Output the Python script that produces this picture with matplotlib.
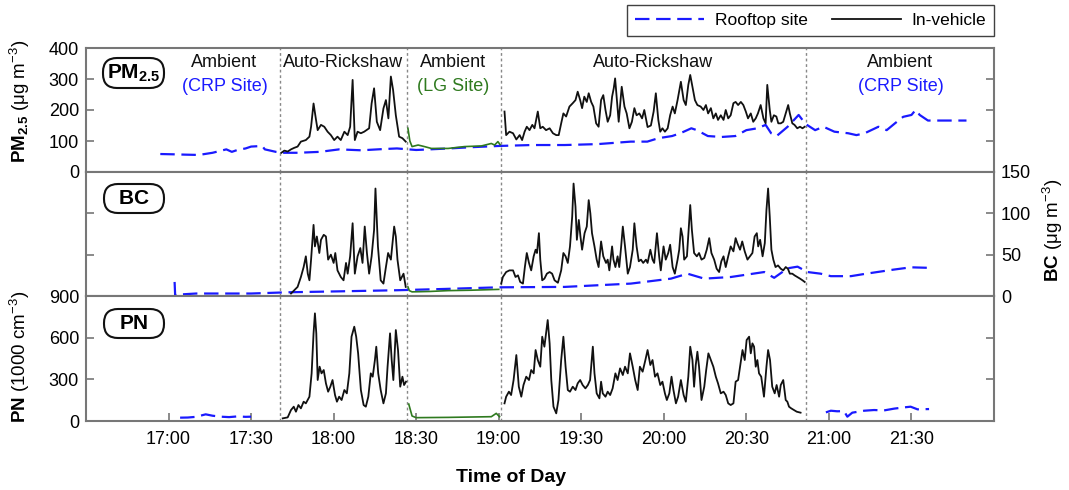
import matplotlib
matplotlib.use("Agg")
import matplotlib.pyplot as plt
import matplotlib.transforms as mtransforms
from matplotlib.lines import Line2D
from matplotlib.patches import FancyBboxPatch
from matplotlib.ticker import FuncFormatter

plt.rcParams['font.family'] = ['Liberation Sans', 'DejaVu Sans']
plt.rcParams['mathtext.fontset'] = 'custom'
plt.rcParams['mathtext.rm'] = 'Liberation Sans'
plt.rcParams['mathtext.bf'] = 'Liberation Sans:bold'
plt.rcParams['mathtext.it'] = 'Liberation Sans:italic'

# time axis: minutes after 17:00
segment_edges = [40.6, 86.5, 120.8, 231.5]

# ---------------- PM2.5 (ug m-3) ----------------
pm_roof_t = [-3, 2, 6, 11, 16, 21, 23, 25, 28, 30,
             34, 35, 39, 42, 47, 55, 62, 70, 78, 83,
             90, 102, 110, 120, 132, 144, 156, 168, 174, 178,
             183, 186, 190, 192, 196, 201, 206, 210, 214, 217,
             219, 221, 225, 229, 231.5, 235, 238, 242, 247, 250,
             253, 258, 261, 264, 267, 270, 271.5, 273, 276, 290]
pm_roof = [58, 57, 56, 55, 62, 73, 65, 71, 76, 82,
           84, 73, 65, 62, 62, 65, 73, 70, 74, 76,
           71, 76, 80, 84, 87, 87, 90, 98, 98, 109,
           116, 125, 141, 135, 116, 113, 116, 135, 141, 152,
           125, 116, 146, 184, 155, 135, 146, 130, 125, 119,
           125, 146, 135, 157, 178, 184, 200, 184, 166, 166]

pm_lg_t = [87, 87.7, 88.5, 90.7, 93, 95.5, 101.6, 107.6, 113.7, 117.3, 118.5, 119.7, 120.5]
pm_lg = [141, 100, 82, 87, 82, 76, 76, 82, 84, 92, 87, 98, 88]

pm_car1_t = [41, 42.1, 43.3, 44.5, 45.7, 46.9, 48.1, 49.9, 51.2, 51.8,
             52.7, 53.6, 54.2, 55.4, 56.6, 57.8, 59.0, 60.2, 61.4, 62.6,
             63.9, 65.1, 66.0, 66.9, 67.7, 68.7, 69.9, 71.1, 72.9, 73.8,
             74.7, 75.7, 76.9, 78.1, 79.0, 79.9, 80.8, 81.6, 82.6, 83.8,
             85.0, 86.2]
pm_car1 = [62, 69, 66, 73, 78, 82, 98, 103, 114, 146,
           221, 168, 135, 152, 146, 130, 119, 103, 114, 103,
           130, 119, 146, 297, 103, 130, 125, 130, 141, 221,
           270, 162, 135, 205, 232, 173, 308, 265, 183, 114,
           109, 98]

pm_car2_t = [122.1, 122.7, 123.9, 125.2, 126.4, 127.6, 128.5, 129.4, 130.2, 131.2,
             132.2, 133.0, 134.2, 135.1, 136.0, 137.2, 138.5, 139.7, 140.9, 141.8,
             142.7, 143.5, 144.5, 145.7, 146.9, 147.9, 148.7, 149.6, 150.3, 151.1,
             152.0, 152.7, 153.6, 154.4, 155.4, 156.3, 157.2, 158.0, 158.8, 159.6,
             160.5, 161.2, 161.8, 162.3, 163.6, 164.7, 165.7, 166.5, 167.5, 168.4,
             169.3, 170.1, 171.1, 172.1, 172.9, 174.1, 175.3, 176.3, 177.1, 178.0,
             178.7, 179.5, 180.4, 181.4, 182.3, 183.2, 184.0, 185.0, 186.2, 187.2,
             188.0, 188.9, 189.6, 190.4, 191.3, 192.2, 193.4, 194.4, 195.3, 196.1,
             197.1, 198.0, 198.9, 199.7, 200.7, 201.7, 202.5, 203.4, 204.3, 205.3,
             206.1, 207.0, 208.0, 208.9, 209.8, 210.6, 211.6, 212.5, 213.4, 214.2,
             215.2, 216.2, 217.0, 217.6, 218.5, 219.1, 220.0, 220.9, 221.6, 222.5,
             223.4, 224.3, 225.2, 225.8, 226.7, 227.5, 228.5, 229.5, 230.4, 231.2]
pm_car2 = [195, 119, 130, 125, 105, 119, 103, 130, 146, 135,
           152, 141, 195, 141, 146, 135, 141, 125, 119, 119,
           157, 189, 179, 211, 222, 232, 259, 232, 206, 243,
           226, 254, 226, 211, 157, 146, 232, 248, 200, 162,
           183, 243, 270, 302, 162, 275, 211, 189, 141, 162,
           206, 183, 189, 173, 200, 145, 150, 195, 254, 168,
           130, 141, 130, 141, 183, 211, 189, 232, 291, 232,
           216, 281, 313, 275, 232, 216, 211, 200, 216, 189,
           206, 173, 189, 168, 183, 168, 200, 173, 183, 222,
           226, 216, 226, 216, 195, 173, 189, 162, 173, 189,
           216, 173, 157, 281, 200, 162, 183, 179, 157, 157,
           162, 189, 216, 189, 157, 152, 141, 146, 141, 146]

# ---------------- BC (ug m-3) ----------------
bc_roof_t = [2.2, 2.4, 5, 10, 20, 30, 43.5, 60, 83.4, 100,
             120, 144, 168, 182.6, 188.6, 194.7, 204.4, 216.5, 220.1, 225,
             228.6, 232.2, 237, 240.7, 248, 252.8, 257.6, 263.7, 269.8, 277]
bc_roof = [17, 1, 2, 3, 3, 3, 4.5, 5.5, 7, 8.5,
           10.5, 11, 15, 21, 27, 21, 23, 29, 22, 33.5,
           35.5, 29, 27, 24, 24, 26.6, 29, 32, 34.7, 34]

bc_lg_t = [87, 87.5, 88.5, 95, 101.6, 110, 120]
bc_lg = [11, 6.5, 5, 5.5, 6.5, 7, 8]

bc_car1_t = [44.5, 45.1, 46.9, 48.1, 49.1, 49.9, 50.6, 51.2, 51.8, 52.7,
             53.2, 53.9, 54.8, 55.4, 56.4, 57.2, 58.0, 59.0, 60.0, 60.6,
             61.4, 62.6, 63.6, 64.5, 65.1, 66.0, 66.9, 67.7, 68.7, 69.7,
             70.5, 71.3, 72.1, 72.9, 73.8, 74.7, 75.2, 76.1, 77.1, 78.1,
             79.0, 79.8, 80.8, 82.0, 82.6, 83.2, 84.2, 85.4, 86.2]
bc_car1 = [3, 5, 11, 23, 35, 48, 27, 19, 44, 86,
           60, 72, 52, 68, 74, 72, 44, 50, 40, 52,
           31, 23, 19, 40, 27, 48, 88, 27, 48, 58,
           40, 84, 52, 27, 48, 80, 130, 60, 19, 15,
           35, 52, 44, 84, 72, 44, 19, 27, 11]

bc_car2_t = [120.9, 121.5, 122.7, 123.9, 125.2, 126.1, 127.0, 127.8, 128.8, 129.5,
             130.2, 131.0, 131.8, 132.7, 133.4, 133.9, 134.6, 135.1, 135.8, 136.6,
             137.5, 138.5, 139.4, 140.3, 141.5, 142.7, 143.5, 144.3, 145.1, 145.9,
             146.7, 147.2, 147.9, 148.4, 149.1, 149.7, 150.3, 151.2, 152.0, 152.7,
             153.3, 153.9, 154.8, 155.6, 156.3, 157.2, 158.0, 159.0, 159.6, 160.2,
             161.2, 161.7, 162.4, 163.2, 163.8, 164.5, 165.1, 165.9, 166.9, 167.7,
             168.7, 169.3, 170.1, 170.9, 171.7, 172.5, 173.5, 174.1, 175.1, 175.9,
             176.5, 177.5, 178.3, 178.9, 179.9, 180.7, 181.6, 182.3, 183.2, 184.0,
             185.0, 185.6, 186.2, 186.8, 187.4, 188.4, 189.0, 189.6, 190.2, 191.0,
             192.0, 192.8, 193.7, 194.7, 195.6, 196.5, 197.3, 198.3, 199.2, 200.1,
             200.9, 201.7, 202.5, 203.4, 204.3, 205.3, 206.1, 206.7, 207.7, 208.5,
             209.4, 210.4, 211.3, 212.2, 213.0, 213.8, 214.3, 215.0, 215.9, 216.7,
             217.3, 217.9, 218.5, 219.1, 219.8, 220.6, 221.5, 222.5, 223.4, 224.3,
             225.1, 225.8, 226.7, 227.5, 228.5, 229.5, 230.4, 231.2]
bc_car2 = [15, 23, 29, 31, 31, 23, 25, 17, 15, 35,
           52, 40, 31, 48, 56, 52, 76, 44, 19, 21,
           27, 29, 27, 19, 16, 31, 52, 48, 40, 60,
           96, 136, 108, 68, 92, 72, 56, 76, 84, 116,
           100, 76, 60, 44, 35, 66, 48, 40, 44, 31,
           60, 44, 35, 48, 35, 60, 84, 60, 27, 35,
           56, 88, 60, 42, 44, 40, 44, 40, 56, 44,
           40, 76, 48, 31, 60, 44, 52, 62, 35, 27,
           44, 56, 82, 72, 44, 48, 80, 110, 80, 52,
           48, 52, 44, 46, 56, 70, 52, 44, 33, 29,
           42, 48, 35, 48, 60, 54, 70, 64, 56, 66,
           54, 44, 48, 52, 72, 76, 60, 68, 48, 64,
           104, 130, 96, 56, 44, 35, 37, 33, 31, 35,
           33, 27, 27, 25, 23, 21, 19, 17]

# ---------------- PN (1000 cm-3) ----------------
pn_roof1_t = [4.2, 7, 10, 13.5, 16, 19, 22, 25, 28, 30]
pn_roof1 = [24, 25, 30, 48, 38, 31, 28, 33, 30, 31]
pn_roof2_t = [238.9, 240.7, 243, 245.5, 246.7, 248.5, 252.8, 256.4, 260, 263.7,
              267.3, 269.7, 272.2, 276.4]
pn_roof2 = [62, 74, 70, 71, 31, 60, 74, 79, 76, 89,
            98, 103, 84, 86]

pn_lg_t = [87.3, 88.5, 90, 101.6, 117.3, 119.1, 120.3]
pn_lg = [122, 36, 24, 26, 31, 55, 31]

pn_car1_t = [41.5, 43.3, 44.5, 45.5, 46.3, 47.2, 48.1, 49.1, 49.9, 51.2,
             52.0, 52.7, 53.2, 53.7, 54.2, 54.9, 55.6, 56.4, 57.2, 58.0,
             58.8, 59.6, 60.5, 61.2, 62.0, 62.9, 63.9, 64.8, 65.7, 66.5,
             67.5, 68.2, 68.9, 69.9, 70.9, 71.7, 72.6, 73.5, 74.2, 75.0,
             75.5, 76.2, 77.1, 78.1, 79.0, 79.6, 80.5, 81.1, 81.7, 82.6,
             83.4, 84.2, 85.0, 85.6, 86.3]
pn_car1 = [19, 26, 79, 103, 67, 115, 91, 139, 127, 175,
           343, 631, 775, 631, 295, 391, 343, 367, 271, 211,
           247, 295, 187, 139, 175, 151, 223, 199, 343, 607,
           679, 607, 487, 223, 115, 103, 175, 343, 319, 439,
           535, 343, 223, 127, 199, 391, 631, 439, 295, 655,
           511, 247, 319, 259, 283]

pn_car2_t = [122.1, 122.7, 123.7, 124.5, 125.4, 126.4, 127.3, 128.2, 129.0, 130.0,
             131.0, 131.8, 132.7, 133.4, 134.2, 135.1, 135.8, 136.6, 137.2, 137.8,
             138.5, 139.1, 139.9, 140.9, 141.7, 142.7, 143.5, 144.3, 145.1, 145.9,
             146.9, 147.9, 148.7, 149.6, 150.5, 151.5, 152.4, 153.2, 154.2, 154.8,
             155.6, 156.6, 157.2, 157.8, 158.8, 159.6, 160.5, 161.4, 162.4, 163.2,
             164.1, 165.1, 165.9, 166.9, 167.7, 168.7, 169.6, 170.5, 171.3, 172.3,
             173.3, 174.1, 175.1, 175.9, 176.8, 177.7, 178.7, 179.5, 180.4, 181.1,
             182.0, 182.8, 183.5, 184.4, 185.2, 186.2, 187.2, 188.0, 188.9, 189.6,
             190.4, 191.0, 191.6, 192.2, 192.8, 193.7, 194.7, 195.4, 196.2, 197.1,
             198.0, 198.9, 199.7, 200.7, 201.7, 202.5, 203.4, 204.3, 205.3, 206.1,
             207.0, 207.7, 208.6, 209.4, 210.1, 211.0, 211.6, 212.2, 212.8, 213.4,
             214.0, 214.6, 215.4, 216.4, 217.3, 217.9, 218.6, 219.4, 220.3, 221.0,
             221.9, 222.5, 223.4, 224.3, 224.9, 225.5, 226.3, 227.3, 228.3, 229.7]
pn_car2 = [127, 175, 211, 187, 295, 475, 247, 175, 259, 319,
           295, 367, 343, 511, 439, 391, 607, 535, 631, 727,
           559, 295, 103, 55, 151, 439, 607, 391, 223, 211,
           247, 223, 271, 295, 259, 235, 259, 295, 535, 343,
           199, 163, 283, 199, 175, 211, 187, 235, 343, 295,
           379, 331, 391, 343, 487, 391, 295, 223, 391, 355,
           439, 511, 403, 439, 319, 343, 259, 283, 199, 151,
           199, 319, 223, 127, 175, 295, 187, 139, 319, 535,
           439, 247, 403, 499, 391, 151, 247, 367, 487, 439,
           391, 319, 271, 199, 211, 187, 127, 115, 127, 283,
           295, 391, 511, 439, 583, 607, 487, 559, 535, 391,
           439, 343, 319, 175, 391, 511, 439, 247, 199, 259,
           175, 259, 295, 151, 139, 103, 91, 79, 67, 60]

time_ticks = [0, 30, 60, 90, 120, 150, 180, 210, 240, 270]

BLUE = '#1a1aff'
GREEN = '#2f7a1f'
BLACK = '#111111'
SPINE = '#777777'

W, H = 1069, 490
fig = plt.figure(figsize=(W / 100, H / 100), dpi=100)


def px_axes(x0, y0, x1, y1):
    return fig.add_axes([x0 / W, 1 - y1 / H, (x1 - x0) / W, (y1 - y0) / H])


ax_pm = px_axes(86, 48, 994, 172)
ax_bc = px_axes(86, 172, 994, 296)
ax_pn = px_axes(86, 296, 994, 421)


def roof(ax, t, v):
    ax.plot(t, v, color=BLUE, lw=1.6, dashes=(6.5, 3), zorder=3)


def car(ax, t, v):
    ax.plot(t, v, color=BLACK, lw=1.3, zorder=4)


def lg(ax, t, v):
    ax.plot(t, v, color=GREEN, lw=1.2, zorder=4)


roof(ax_pm, pm_roof_t, pm_roof)
lg(ax_pm, pm_lg_t, pm_lg)
car(ax_pm, pm_car1_t, pm_car1)
car(ax_pm, pm_car2_t, pm_car2)

roof(ax_bc, bc_roof_t, bc_roof)
lg(ax_bc, bc_lg_t, bc_lg)
car(ax_bc, bc_car1_t, bc_car1)
car(ax_bc, bc_car2_t, bc_car2)

roof(ax_pn, pn_roof1_t, pn_roof1)
roof(ax_pn, pn_roof2_t, pn_roof2)
lg(ax_pn, pn_lg_t, pn_lg)
car(ax_pn, pn_car1_t, pn_car1)
car(ax_pn, pn_car2_t, pn_car2)

ax_pm.set_ylim(0, 400)
ax_pm.set_yticks([0, 100, 200, 300, 400])
ax_bc.set_ylim(0, 150)
ax_bc.set_yticks([0, 50, 100, 150])
ax_pn.set_ylim(0, 900)
ax_pn.set_yticks([0, 300, 600, 900])


def clock(t, pos):
    t = int(round(t))
    return f"{17 + t // 60}:{t % 60:02d}"


for ax in (ax_pm, ax_bc, ax_pn):
    ax.set_xlim(-30, 300)
    ax.set_xticks(time_ticks)
    ax.xaxis.set_major_formatter(FuncFormatter(clock))
    for s in ax.spines.values():
        s.set_color(SPINE)
        s.set_linewidth(1.5)
    ax.tick_params(direction='in', length=6, width=1.2, color=SPINE,
                   labelsize=13, pad=5, left=True, right=True,
                   top=False, bottom=False, labelbottom=False)
    for t in segment_edges:
        ax.axvline(t, color='#888888', ls=(0, (2, 2)), lw=1.0, zorder=2)

ax_pm.tick_params(labelleft=True, labelright=False)
ax_bc.tick_params(labelleft=False, labelright=True)
ax_pn.tick_params(labelleft=True, labelright=False)
ax_pn.tick_params(axis='x', bottom=True, labelbottom=True, pad=7)

# section annotations
tr = mtransforms.blended_transform_factory(ax_pm.transData, ax_pm.transAxes)
sections = [(20.3, 'Ambient', '(CRP Site)', BLUE),
            (63.5, 'Auto-Rickshaw', None, None),
            (103.4, 'Ambient', '(LG Site)', GREEN),
            (176.0, 'Auto-Rickshaw', None, None),
            (266.0, 'Ambient', '(CRP Site)', BLUE)]
for t, name, site, col in sections:
    ax_pm.text(t, 0.885, name, transform=tr, ha='center', va='center',
               fontsize=13, color=BLACK)
    if site:
        ax_pm.text(t, 0.69, site, transform=tr, ha='center', va='center',
                   fontsize=13, color=col)

# rounded panel tags
tags = [(103, 58, 164, 88, r'$\mathbf{PM_{2.5}}$'),
        (104, 184, 164, 213, r'$\mathbf{BC}$'),
        (104, 309, 164, 338, r'$\mathbf{PN}$')]
for x0, y0, x1, y1, label in tags:
    box = FancyBboxPatch((x0 / 100, (H - y1) / 100), (x1 - x0) / 100, (y1 - y0) / 100,
                         boxstyle='round,pad=0,rounding_size=0.14',
                         transform=fig.dpi_scale_trans, facecolor='white',
                         edgecolor=BLACK, lw=1.5, zorder=5)
    fig.add_artist(box)
    fig.text((x0 + x1) / 2 / W, 1 - (y0 + y1) / 2 / H, label, ha='center',
             va='center', fontsize=15, zorder=6)

# axis titles
fig.text(20 / W, 1 - 101 / H, r'$\mathbf{PM_{2.5}}$ (μg m$^{-3}$)', rotation=90,
         ha='center', va='center', fontsize=13.5)
fig.text(1053 / W, 1 - 230 / H, r'$\mathbf{BC}$ (μg m$^{-3}$)', rotation=90,
         ha='center', va='center', fontsize=13.5)
fig.text(20 / W, 1 - 357 / H, r'$\mathbf{PN}$ (1000 cm$^{-3}$)', rotation=90,
         ha='center', va='center', fontsize=13.5)
fig.text(511 / W, 1 - 477 / H, 'Time of Day', ha='center', va='center',
         fontsize=14, fontweight='bold')

handles = [Line2D([], [], color=BLUE, lw=1.6, dashes=(6.5, 3)),
           Line2D([], [], color=BLACK, lw=1.3)]
fig.legend(handles, ['Rooftop site', 'In-vehicle'], loc='upper right',
           bbox_to_anchor=(994 / W, 1 - 5 / H), ncol=2, frameon=True,
           fancybox=False, edgecolor=BLACK, fontsize=12.5, handlelength=4.0,
           columnspacing=1.4, borderaxespad=0, borderpad=0.45,
           handletextpad=0.6)

fig.savefig('out.png', dpi=100)
